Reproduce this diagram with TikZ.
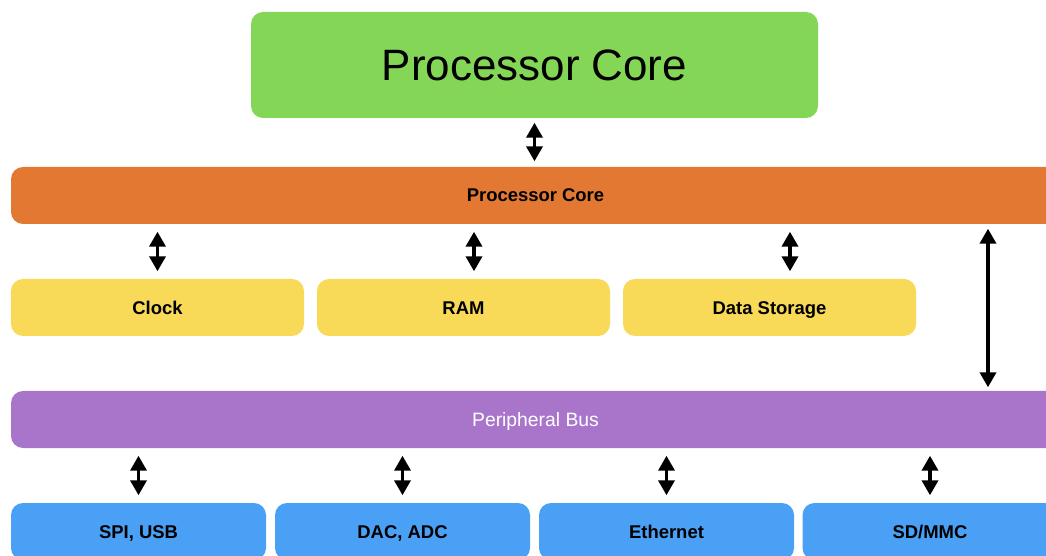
\documentclass[tikz,border=0pt]{standalone}
\usepackage{fontspec}
\setmainfont{Liberation Sans}
\usetikzlibrary{arrows.meta,positioning,calc}
\definecolor{coregreen}{RGB}{132,214,87}
\definecolor{busorange}{RGB}{226,120,49}
\definecolor{unityellow}{RGB}{248,217,88}
\definecolor{busviolet}{RGB}{169,117,203}
\definecolor{portblue}{RGB}{74,160,245}

\begin{document}
\begin{tikzpicture}[line width=0.8pt,
    block/.style={rounded corners=0.24cm,inner sep=0pt,text height=7.4pt,text depth=0pt,font=\bfseries\fontsize{10.5}{12}\selectfont},
    bar/.style={block,minimum width=20.98cm,minimum height=1.14cm},
    unit/.style={block,fill=unityellow,minimum width=5.86cm,minimum height=1.14cm},
    port/.style={block,fill=portblue,minimum width=5.10cm,minimum height=1.14cm},
    link/.style={{Triangle[width=0.32cm,length=0.3cm]}-{Triangle[width=0.32cm,length=0.3cm]},line width=0.07cm,shorten <=0.14cm,shorten >=0.14cm}]
    \useasboundingbox (0,0) rectangle (20.92,-11.12);
    \clip (0,0) rectangle (20.92,-11.12);

    \node[block,fill=coregreen,minimum width=11.34cm,minimum height=2.12cm,text height=17.6pt,font=\fontsize{25}{30}\selectfont] (core) at (10.69,-1.30) {Processor Core};
    \node[bar,fill=busorange] (corebus) at (10.71,-3.91) {Processor Core};

    \node[unit] (clock) at (3.15,-6.15) {Clock};
    \node[unit] (ram) at (9.27,-6.15) {RAM};
    \node[unit] (storage) at (15.39,-6.15) {Data Storage};

    \node[bar,fill=busviolet,text=white,font=\fontsize{11}{13}\selectfont] (periph) at (10.71,-8.39) {Peripheral Bus};

    \node[port] (spi) at (2.77,-10.63) {SPI, USB};
    \node[port] (dac) at (8.05,-10.63) {DAC, ADC};
    \node[port] (eth) at (13.33,-10.63) {Ethernet};
    \node[port] (sd) at (18.60,-10.63) {SD/MMC};

    \coordinate (tap) at (19.76,-3.91);

    \draw[link,shorten <=0.08cm,shorten >=0.1cm] (core.south) -- (core.south |- corebus.north);
    \draw[link] (clock.north |- corebus.south) -- (clock.north);
    \draw[link] ([xshift=0.21cm]ram.north |- corebus.south) -- ([xshift=0.21cm]ram.north);
    \draw[link] ([xshift=0.41cm]storage.north |- corebus.south) -- ([xshift=0.41cm]storage.north);
    \draw[link,shorten <=0.08cm,shorten >=0.06cm] (tap |- corebus.south) -- (tap |- periph.north);

    \draw[link] (spi.north |- periph.south) -- (spi.north);
    \draw[link] (dac.north |- periph.south) -- (dac.north);
    \draw[link] (eth.north |- periph.south) -- (eth.north);
    \draw[link] (sd.north |- periph.south) -- (sd.north);
    % \draw[link] (ram.south) -- (periph.north);
\end{tikzpicture}
\end{document}
